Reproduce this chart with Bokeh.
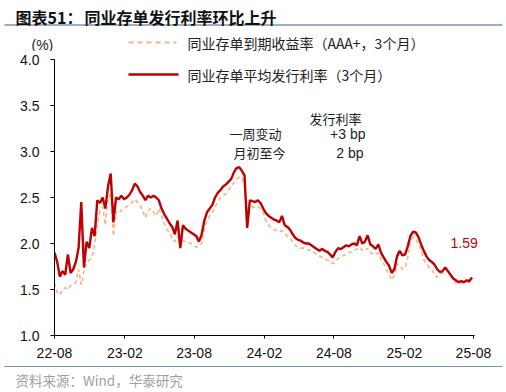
import pandas as pd
from bokeh.plotting import figure
from bokeh.layouts import column
from bokeh.models import (Label, FixedTicker, DatetimeTickFormatter, NumeralTickFormatter, Range1d)
from bokeh.embed import file_html
from bokeh.resources import INLINE

# ---------------- data (weekly readings from the picture) ----------------
start_date = "2022-08-01"
issue_rate = [
    1.90, 1.80, 1.64, 1.70, 1.66, 1.88, 1.68, 1.72, 1.80, 1.95,
    2.45, 1.74, 2.02, 1.95, 2.17, 2.08, 2.47, 2.44, 2.50, 2.38,
    2.62, 2.76, 2.23, 2.50, 2.48, 2.52, 2.48, 2.50, 2.53, 2.58,
    2.65, 2.62, 2.56, 2.52, 2.47, 2.52, 2.50, 2.52, 2.50, 2.47,
    2.38, 2.32, 2.27, 2.22, 2.18, 2.10, 2.25, 1.95, 2.20, 2.16,
    2.14, 2.12, 2.10, 2.08, 2.02, 2.10, 2.25, 2.34, 2.38, 2.42,
    2.50, 2.55, 2.58, 2.62, 2.64, 2.67, 2.70, 2.77, 2.82, 2.83,
    2.79, 2.74, 2.17, 2.47, 2.46, 2.45, 2.47, 2.44, 2.38, 2.33,
    2.30, 2.28, 2.26, 2.25, 2.23, 2.30, 2.20, 2.18, 2.15, 2.10,
    2.06, 2.04, 2.03, 2.01, 2.00, 2.00, 1.98, 1.96, 1.94, 1.92,
    1.94, 1.92, 1.91, 1.88, 1.85, 1.91, 1.95, 1.94, 1.96, 1.98,
    1.97, 1.99, 2.00, 1.98, 2.08, 2.00, 2.02, 2.09, 1.99, 1.97,
    1.94, 1.99, 1.90, 1.85, 1.80, 1.76, 1.68, 1.72, 1.86, 1.92,
    1.87, 1.88, 1.97, 2.08, 2.13, 2.12, 2.07, 1.99, 1.92, 1.86,
    1.82, 1.80, 1.77, 1.72, 1.69, 1.70, 1.74, 1.70, 1.66, 1.62,
    1.60, 1.58, 1.59, 1.58, 1.60, 1.59, 1.63,
]
ytm_rate = [
    1.57, 1.47, 1.44, 1.50, 1.52, 1.50, 1.54, 1.55, 1.58, 1.72,
    1.55, 1.70, 1.78, 1.82, 1.85, 1.98, 2.20, 2.35, 2.40, 2.20,
    2.48, 2.55, 2.08, 2.35, 2.33, 2.36, 2.38, 2.40, 2.42, 2.45,
    2.48, 2.45, 2.42, 2.35, 2.28, 2.36, 2.38, 2.34, 2.30, 2.38,
    2.30, 2.22, 2.15, 2.12, 2.05, 2.02, 2.08, 2.04, 2.03, 2.02,
    2.01, 2.00, 1.98, 1.96, 1.97, 2.00, 2.15, 2.25, 2.30, 2.33,
    2.40, 2.45, 2.50, 2.52, 2.54, 2.58, 2.62, 2.66, 2.70, 2.72,
    2.72, 2.62, 2.30, 2.40, 2.40, 2.39, 2.40, 2.38, 2.33, 2.25,
    2.20, 2.17, 2.15, 2.14, 2.13, 2.14, 2.11, 2.08, 2.06, 2.02,
    1.98, 1.96, 1.95, 1.95, 1.94, 1.93, 1.92, 1.90, 1.88, 1.86,
    1.85, 1.83, 1.82, 1.80, 1.78, 1.80, 1.84, 1.85, 1.87, 1.88,
    1.90, 1.91, 1.93, 1.94, 1.96, 1.93, 1.92, 1.95, 1.90, 1.89,
    1.88, 1.90, 1.83, 1.78, 1.72, 1.66, 1.60, 1.65, 1.78, 1.76,
    1.72, 1.74, 1.85, 2.02, 2.07, 2.06, 1.99, 1.93, 1.82, 1.78,
    1.74, 1.72, 1.66, 1.63, 1.66, 1.68, 1.69, 1.71, 1.66, 1.60,
    1.57, 1.56, 1.57, 1.57, 1.58, 1.58, 1.60,
]
tick_dates = ["2022-08-01", "2023-02-01", "2023-08-01", "2024-02-01",
              "2024-08-01", "2025-02-01", "2025-08-01"]
y_ticks = [1.0, 1.5, 2.0, 2.5, 3.0, 3.5, 4.0]
last_label = "1.59"
title_a = "图表51："
title_b = "同业存单发行利率环比上升"
legend_ytm = "同业存单到期收益率（AAA+，3个月）"
legend_issue = "同业存单平均发行利率（3个月）"
table_header = "发行利率"
row_names = ["一周变动", "月初至今"]
row_values = ["+3 bp", "2 bp"]
unit_text = "(%)"
source_text = "资料来源：Wind，华泰研究"

dates = pd.date_range(start_date, periods=len(issue_rate), freq="7D")

RED = "#C00000"
ORANGE = "#F6B38A"
CJK = "Noto Sans CJK SC"
LAT = "Liberation Sans"
W = 506
TOP_H = 51          # header strip (page y 0..51)
MAIN_BOTTOM = 360   # main chart strip (page y 51..360)
FRAME_L, FRAME_R, Y4_PAGE, Y1_PAGE = 54, 480, 59, 335


def no_align(f):
    try:
        f.frame_align = False
    except Exception:
        pass


def strip(y0, y1):
    """A figure whose frame is the whole strip; data coords = page px."""
    f = figure(width=W, height=y1 - y0, output_backend="svg", toolbar_location=None,
               x_axis_location=None, y_axis_location=None,
               min_border=0, min_border_left=0, min_border_right=0,
               min_border_top=0, min_border_bottom=0)
    no_align(f)
    f.x_range = Range1d(0, W)
    f.y_range = Range1d(y1, y0)
    f.outline_line_color = None
    f.xgrid.visible = False
    f.ygrid.visible = False
    return f


def add_label(f, x, y, text, font=CJK, size="13px", color="#222222", bold=False, align="left"):
    f.add_layout(Label(x=x, y=y, text=text, text_font=font, text_font_size=size,
                       text_color=color, text_font_style="bold" if bold else "normal",
                       text_align=align, text_baseline="middle"))


# ---------------- header strip ----------------
top = strip(0, TOP_H)
add_label(top, 15, 16, title_a, size="16px", bold=True, color="#111111")
add_label(top, 84, 16, title_b, size="16px", bold=True, color="#111111")
top.line([4, 502], [24.5, 24.5], line_color="#9AB0C6", line_width=2)
add_label(top, 31, 44, unit_text, font=LAT, size="14px")
top.line([128, 176], [42, 42], line_color=ORANGE, line_width=1.8, line_dash="5 4")
add_label(top, 187, 42, legend_ytm, size="14px")

# ---------------- main chart ----------------
x0 = pd.Timestamp(tick_dates[0]).value / 1e6
x_last_tick = pd.Timestamp(tick_dates[-1]).value / 1e6
ms_per_px = (x_last_tick - x0) / 419.0
x1 = x0 + (FRAME_R - FRAME_L) * ms_per_px
px_per_unit = (Y1_PAGE - Y4_PAGE) / 3.0
y_top = 4.0 + (Y4_PAGE - TOP_H) / px_per_unit


def px_x(X):
    return x0 + (X - FRAME_L) * ms_per_px


def px_y(Y):
    return 4.0 - (Y - Y4_PAGE) / px_per_unit


p = figure(width=W, height=MAIN_BOTTOM - TOP_H, output_backend="svg", toolbar_location=None,
           x_axis_type="datetime", min_border_left=FRAME_L, min_border_right=W - FRAME_R,
           min_border_top=0, min_border_bottom=MAIN_BOTTOM - Y1_PAGE)
no_align(p)
p.x_range = Range1d(x0, x1)
p.y_range = Range1d(1.0, y_top)
p.outline_line_color = None
p.xgrid.visible = False
p.ygrid.visible = False

p.line(dates, ytm_rate, line_color=ORANGE, line_width=1.6, line_dash="4 3")
p.line(dates, issue_rate, line_color=RED, line_width=2.4)

xa = p.xaxis[0]
xa.ticker = FixedTicker(ticks=[pd.Timestamp(d).value / 1e6 for d in tick_dates])
xa.formatter = DatetimeTickFormatter(days="%y-%m", months="%y-%m", years="%y-%m")
xa.bounds = (x0, x0 + 420 * ms_per_px)
ya = p.yaxis[0]
ya.ticker = FixedTicker(ticks=y_ticks)
ya.formatter = NumeralTickFormatter(format="0.0")
ya.bounds = (1.0, 4.0)
for ax in (xa, ya):
    ax.axis_line_color = "#000000"
    ax.major_tick_line_color = "#000000"
    ax.minor_tick_line_color = None
    ax.major_tick_in = 0
    ax.major_label_text_font = LAT
    ax.major_label_text_font_size = "14px"
    ax.major_label_text_color = "#111111"
xa.major_tick_out = 3
xa.major_label_standoff = 9
ya.major_tick_out = 4
ya.major_label_standoff = 11

# legend row 2
p.line([px_x(128), px_x(178)], [px_y(74), px_y(74)], line_color=RED, line_width=2.4)
add_label(p, px_x(187), px_y(74), legend_issue, size="14px")
# table annotation
add_label(p, px_x(309), px_y(118), table_header)
add_label(p, px_x(229), px_y(133), row_names[0])
add_label(p, px_x(233), px_y(152), row_names[1])
add_label(p, px_x(365), px_y(133), row_values[0], font=LAT, size="14px", align="right")
add_label(p, px_x(363), px_y(152), row_values[1], font=LAT, size="14px", align="right")
# last value
add_label(p, px_x(450), px_y(242), last_label, font=LAT, size="14px", color=RED)

# ---------------- footer strip ----------------
bot = strip(MAIN_BOTTOM, 392)
bot.line([4, 502], [366, 366], line_color="#6E95C6", line_width=1)
add_label(bot, 15, 379, source_text, size="13.5px", color="#A0A0A0")

layout = column(top, p, bot, spacing=0)
open("out.html", "w").write(file_html(layout, INLINE))
